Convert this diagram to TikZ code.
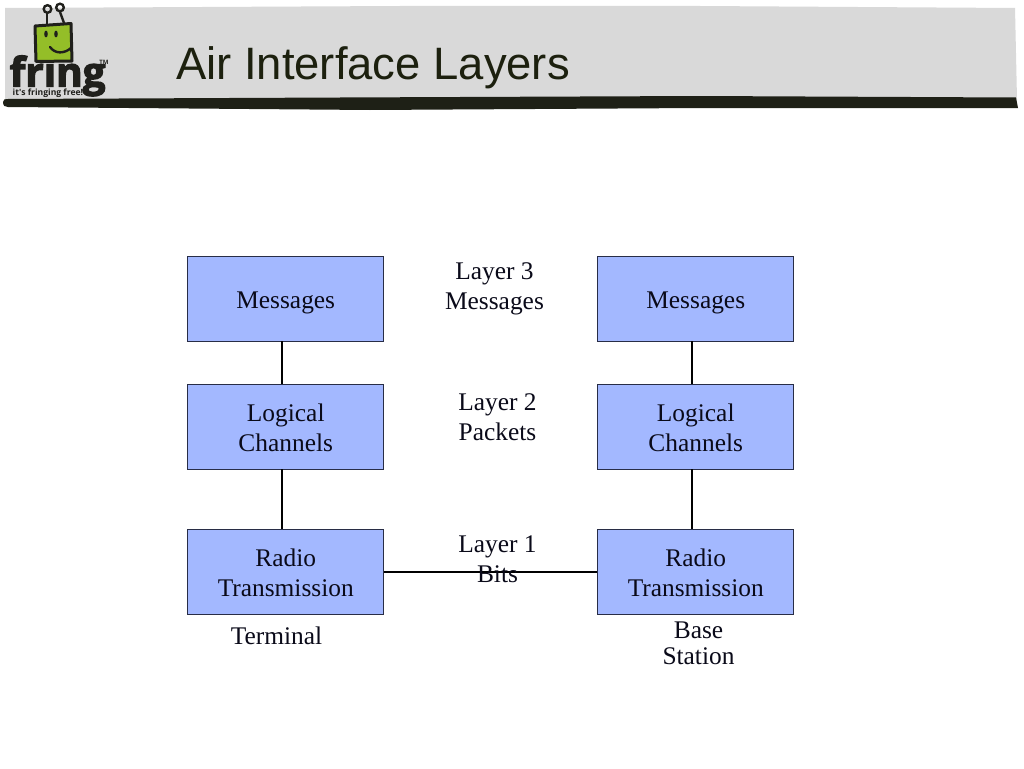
\documentclass[tikz,border=0pt]{standalone}
\usepackage{fontspec}
\setmainfont{Liberation Serif}
\newfontfamily\hdfont{Liberation Sans}
\newfontfamily\logofont[FakeBold=3]{Open Sans}
\newfontfamily\sloganfont{Open Sans}
\definecolor{bandgray}{RGB}{217,217,217}
\definecolor{banddark}{RGB}{30,32,22}
\definecolor{boxblue}{RGB}{163,184,255}
\definecolor{boxedge}{RGB}{40,45,70}
\definecolor{titlecol}{RGB}{28,32,14}
\definecolor{logogreen}{RGB}{148,190,40}
\definecolor{logoblack}{RGB}{32,32,28}
\definecolor{inktext}{RGB}{10,10,25}
\tikzset{
  x=1pt,y=-1pt,
  layerbox/.style={draw=boxedge,line width=0.8pt,fill=boxblue,minimum width=196pt,minimum height=85pt,inner sep=0pt},
  lbl/.style={inner sep=0pt,align=center,font=\fontsize{25.4}{30}\selectfont,text=inktext},
  link/.style={draw=black,line width=2pt},
}
\begin{document}
\begin{tikzpicture}
\useasboundingbox (0,0) rectangle (1024,768);
\fill[white] (0,0) rectangle (1024,768);
% header band
\fill[bandgray] (5,8) -- (400,6) -- (700,6) -- (1015,8) -- (1017,100) -- (5,100) -- cycle;
\fill[banddark] (3,102) .. controls (3,99) and (5,99) .. (8,99) -- (340,97.5) -- (700,96) -- (1016,97.5) -- (1018,108) -- (700,108) -- (370,110) -- (8,107) .. controls (5,107) and (3,106) .. (3,102) -- cycle;
\node[anchor=west,inner sep=0pt,text=titlecol,font=\hdfont\fontsize{45.4}{50}\selectfont] (title) at (176,68) {Air Interface Layers};
% logo
\node[anchor=base west,inner sep=0pt,text=logoblack,font=\logofont\bfseries\fontsize{40.5}{41}\selectfont] (brand) at (9.5,86.5) {fring};
\draw[logoblack,line width=2.4pt] (47,24) -- (47,13);
\draw[logoblack,line width=2.4pt] (64,23) -- (60,12);
\draw[logoblack,line width=2.4pt] (47.5,9) circle[radius=3.8];
\draw[logoblack,line width=2.4pt] (60,7.5) circle[radius=3.8];
\fill[logogreen,draw=logoblack,line width=3pt,line join=round] (35,26) -- (71,23.5) -- (72,61) -- (36,61.5) -- cycle;
\fill[logoblack] (46,34) ellipse[x radius=1.8,y radius=3.4];
\fill[logoblack] (56,34) ellipse[x radius=1.8,y radius=3.4];
\draw[logoblack,line width=2.4pt,line cap=round] (50,47) .. controls (55,54) and (64,54) .. (71,48);
\node[anchor=base west,inner sep=0pt,text=logoblack,font=\sloganfont\bfseries\fontsize{8.6}{9}\selectfont] (slogan) at (12.5,95) {it's fringing free!};
\node[inner sep=0pt,text=logoblack,font=\sloganfont\bfseries\fontsize{6}{6}\selectfont] (tm) at (104,62.5) {TM};
% boxes
\node[layerbox] (m1) at (285.75,298.5) {};
\node[layerbox] (l1) at (285.75,426.5) {};
\node[layerbox] (r1) at (285.75,571.5) {};
\node[layerbox] (m2) at (695.75,298.5) {};
\node[layerbox] (l2) at (695.75,426.5) {};
\node[layerbox] (r2) at (695.75,571.5) {};
% connectors
\draw[link] ([xshift=-4pt]m1.south) -- ([xshift=-4pt]l1.north);
\draw[link] ([xshift=-4pt]l1.south) -- ([xshift=-4pt]r1.north);
\draw[link] ([xshift=-4pt]m2.south) -- ([xshift=-4pt]l2.north);
\draw[link] ([xshift=-4pt]l2.south) -- ([xshift=-4pt]r2.north);
\draw[link] (r1.east) -- (r2.west);
% box texts
\node[lbl] (m1t) at (285.75,303) {Messages};
\node[lbl] (l1t) at (285.75,427.5) {Logical\\Channels};
\node[lbl] (r1t) at (285.75,572.5) {Radio\\Transmission};
\node[lbl] (m2t) at (695.75,303) {Messages};
\node[lbl] (l2t) at (695.75,427.5) {Logical\\Channels};
\node[lbl] (r2t) at (695.75,572.5) {Radio\\Transmission};
% labels
\node[lbl] (t3) at (494.5,288.5) {Layer 3\\Messages};
\node[lbl] (t2) at (497.5,417.5) {Layer 2\\Packets};
\node[lbl] (t1) at (497.5,559.5) {Layer 1\\Bits};
\node[lbl] (term) at (276.5,635.5) {Terminal};
\node[lbl,font=\fontsize{25.4}{26}\selectfont] (base) at (698.5,643) {Base\\Station};
\end{tikzpicture}
\end{document}
